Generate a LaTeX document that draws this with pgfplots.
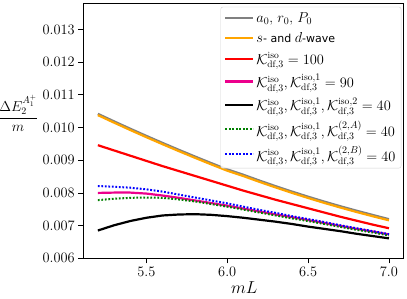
\documentclass[border=0pt]{standalone}
\usepackage{fontspec}
\usepackage{pgfplots}
\pgfplotsset{compat=1.18}
\newfontfamily\dejavu{DejaVu Sans}
\definecolor{mplgray}{HTML}{808080}
\definecolor{mplorange}{HTML}{FFA500}
\definecolor{mplgreen}{HTML}{008000}
\newcommand{\Kd}[1]{\mathcal{K}_{\mathrm{df},3}^{#1}}
\begin{document}
\begin{tikzpicture}
\useasboundingbox (-83.3pt,-39.7pt) rectangle (323.7pt,258.3pt);
\begin{axis}[
  at={(0pt,0pt)}, anchor=south west,
  width=320.2pt, height=255.3pt, scale only axis,
  xmin=5.11, xmax=7.09, ymin=0.006, ymax=0.01381,
  xtick={5.5,6.0,6.5,7.0},
  ytick={0.006,0.007,0.008,0.009,0.010,0.011,0.012,0.013},
  scaled y ticks=false, scaled x ticks=false,
  xticklabel style={/pgf/number format/.cd,fixed,fixed zerofill,precision=1},
  yticklabel style={/pgf/number format/.cd,fixed,fixed zerofill,precision=3},
  tick label style={font=\fontsize{13.6}{16}\selectfont},
  tick align=outside, tick pos=left, major tick length=5pt,
  axis line style={line width=0.8pt},
  every tick/.style={black, line width=0.8pt},
  xlabel={$mL$},
  xlabel style={font=\fontsize{18}{20}\selectfont, at={(axis description cs:0.503,0)}, anchor=base, yshift=-35pt},
  ylabel={$\displaystyle\frac{\Delta E_2^{A_1^+}}{m}$},
  ylabel style={rotate=-90, anchor=east, font=\fontsize{14}{17}\selectfont, at={(axis description cs:-0.13,0.568)}},
  legend cell align=left,
  legend image code/.code={\draw[#1] (0pt,0pt) -- (28pt,0pt);},
  legend style={at={(rel axis cs:0.993,0.985)}, anchor=north east,
    draw=black!18, rounded corners=2pt, fill=white, fill opacity=0.85, text opacity=1,
    font=\fontsize{13.6}{16}\selectfont, row sep=4.6pt, inner sep=3.5pt},
  every axis plot/.append style={line width=2.2pt},
]
\addplot[mplgray] coordinates {
(5.2,0.01042)(5.3,0.01019)(5.4,0.009965)(5.5,0.009745)(5.6,0.00953)(5.7,0.00932)
(5.8,0.009115)(5.9,0.008915)(6.0,0.00872)(6.1,0.008555)(6.2,0.008377)(6.3,0.008206)
(6.4,0.008042)(6.5,0.007885)(6.6,0.007735)(6.7,0.007592)(6.8,0.007456)(6.9,0.007326)(7.0,0.007197)};
\addlegendentry{$a_0$, $r_0$, $P_0$}
\addplot[mplorange] coordinates {
(5.2,0.01038)(5.3,0.01015)(5.4,0.009925)(5.5,0.009705)(5.6,0.00949)(5.7,0.00928)
(5.8,0.009075)(5.9,0.008875)(6.0,0.00868)(6.1,0.008515)(6.2,0.008337)(6.3,0.008166)
(6.4,0.008002)(6.5,0.007845)(6.6,0.007695)(6.7,0.007552)(6.8,0.007416)(6.9,0.007286)(7.0,0.007162)};
\addlegendentry{$s${\fontsize{11}{13}\selectfont\dejavu - and }$d${\fontsize{11}{13}\selectfont\dejavu -wave}}
\addplot[red] coordinates {
(5.2,0.00946)(5.3,0.00930)(5.4,0.00914)(5.5,0.00898)(5.6,0.00882)(5.7,0.00867)
(5.8,0.00852)(5.9,0.00837)(6.0,0.00822)(6.1,0.00807)(6.2,0.00793)(6.3,0.00779)
(6.4,0.00766)(6.5,0.00753)(6.6,0.00740)(6.7,0.00727)(6.8,0.00715)(6.9,0.00703)(7.0,0.00692)};
\addlegendentry{$\Kd{\mathrm{iso}}=100$}
\addplot[magenta] coordinates {
(5.2,0.00800)(5.3,0.00801)(5.4,0.00801)(5.5,0.00798)(5.6,0.00792)(5.7,0.00785)
(5.8,0.00777)(5.9,0.00769)(6.0,0.00761)(6.1,0.00752)(6.2,0.00743)(6.3,0.00734)
(6.4,0.00726)(6.5,0.00717)(6.6,0.00708)(6.7,0.00699)(6.8,0.00690)(6.9,0.00682)(7.0,0.00673)};
\addlegendentry{$\Kd{\mathrm{iso}}, \Kd{\mathrm{iso},1}=90$}
\addplot[black] coordinates {
(5.2,0.00685)(5.3,0.00701)(5.4,0.00714)(5.5,0.00724)(5.6,0.00731)(5.7,0.00734)
(5.8,0.00735)(5.9,0.00733)(6.0,0.00729)(6.1,0.00724)(6.2,0.00718)(6.3,0.00712)
(6.4,0.00705)(6.5,0.00697)(6.6,0.00690)(6.7,0.00683)(6.8,0.00675)(6.9,0.00668)(7.0,0.00661)};
\addlegendentry{$\Kd{\mathrm{iso}}, \Kd{\mathrm{iso},1}, \Kd{\mathrm{iso},2}=40$}
\addplot[mplgreen, line width=2pt, dash pattern=on 1.8pt off 1.7pt] coordinates {
(5.2,0.00778)(5.3,0.00782)(5.4,0.00785)(5.5,0.00786)(5.6,0.00785)(5.7,0.00780)
(5.8,0.00774)(5.9,0.00766)(6.0,0.00758)(6.1,0.00749)(6.2,0.00740)(6.3,0.00731)
(6.4,0.00722)(6.5,0.00714)(6.6,0.00705)(6.7,0.00696)(6.8,0.00687)(6.9,0.00679)(7.0,0.00670)};
\addlegendentry{$\Kd{\mathrm{iso}}, \Kd{\mathrm{iso},1}, \Kd{(2,A)}=40$}
\addplot[blue, line width=2pt, dash pattern=on 1.8pt off 1.7pt] coordinates {
(5.2,0.00821)(5.3,0.00819)(5.4,0.00816)(5.5,0.00811)(5.6,0.00804)(5.7,0.00795)
(5.8,0.00786)(5.9,0.00777)(6.0,0.00768)(6.1,0.00758)(6.2,0.00748)(6.3,0.00739)
(6.4,0.00729)(6.5,0.00720)(6.6,0.00711)(6.7,0.00701)(6.8,0.00692)(6.9,0.00683)(7.0,0.00674)};
\addlegendentry{$\Kd{\mathrm{iso}}, \Kd{\mathrm{iso},1}, \Kd{(2,B)}=40$}
\end{axis}
\end{tikzpicture}
\end{document}
